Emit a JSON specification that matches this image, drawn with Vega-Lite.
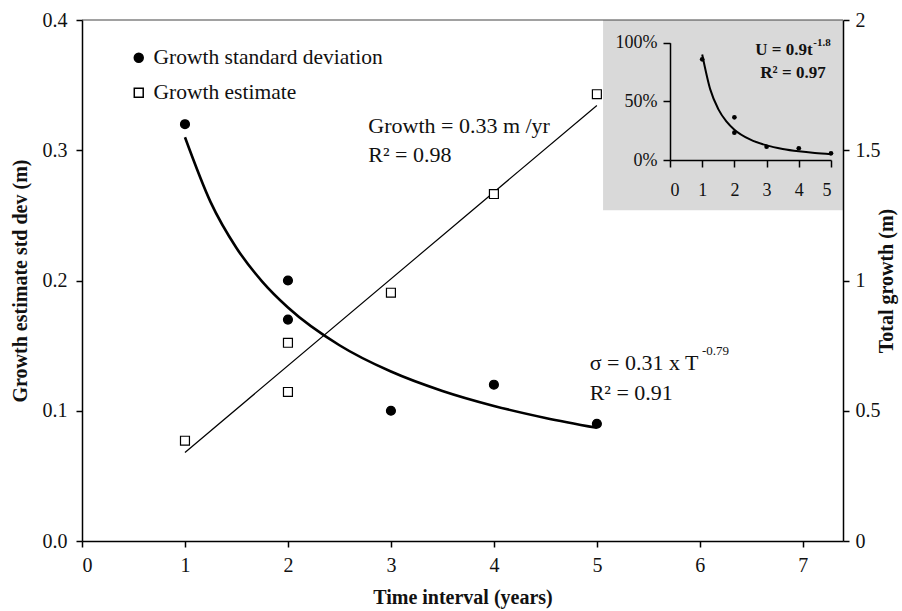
{
  "$schema": "https://vega.github.io/schema/vega-lite/v6.json",
  "width": 761,
  "height": 521,
  "autosize": {"type": "none"},
  "padding": {"left": 82, "top": 20, "right": 59, "bottom": 70},
  "background": "white",
  "config": {
    "view": {"stroke": null},
    "font": "Liberation Serif",
    "axis": {
      "grid": false,
      "domainColor": "#000",
      "domainWidth": 1.5,
      "tickColor": "#000",
      "tickWidth": 1.5,
      "tickSize": 6,
      "labelFont": "Liberation Serif",
      "labelFontSize": 20,
      "labelColor": "#111",
      "titleFont": "Liberation Serif",
      "titleFontSize": 20,
      "titleFontWeight": "bold",
      "titleColor": "#111"
    },
    "text": {"font": "Liberation Serif", "color": "#111"}
  },
  "datasets": {
    "sd": [
      {"t": 1, "v": 0.32, "series": "Growth standard deviation"},
      {"t": 2, "v": 0.20, "series": "Growth standard deviation"},
      {"t": 2, "v": 0.17, "series": "Growth standard deviation"},
      {"t": 3, "v": 0.10, "series": "Growth standard deviation"},
      {"t": 4, "v": 0.12, "series": "Growth standard deviation"},
      {"t": 5, "v": 0.09, "series": "Growth standard deviation"}
    ],
    "sdFit": [
      {"t": 1, "v": 0.310}, {"t": 1.25, "v": 0.260}, {"t": 1.5, "v": 0.225},
      {"t": 1.75, "v": 0.1992}, {"t": 2, "v": 0.1793}, {"t": 2.5, "v": 0.1503},
      {"t": 3, "v": 0.1301}, {"t": 3.5, "v": 0.1152}, {"t": 4, "v": 0.1037},
      {"t": 4.5, "v": 0.0945}, {"t": 5, "v": 0.0869}
    ],
    "growth": [
      {"t": 1, "g": 0.385, "series": "Growth estimate"},
      {"t": 2, "g": 0.572, "series": "Growth estimate"},
      {"t": 2, "g": 0.761, "series": "Growth estimate"},
      {"t": 3, "g": 0.953, "series": "Growth estimate"},
      {"t": 4, "g": 1.332, "series": "Growth estimate"},
      {"t": 5, "g": 1.715, "series": "Growth estimate"}
    ],
    "growthFit": [
      {"t": 1, "g": 0.34},
      {"t": 5, "g": 1.672}
    ],
    "unc": [
      {"t": 1, "u": 0.858}, {"t": 2, "u": 0.364}, {"t": 2, "u": 0.233},
      {"t": 3, "u": 0.113}, {"t": 4, "u": 0.100}, {"t": 5, "u": 0.057}
    ],
    "uncFit": [
      {"t": 1, "u": 0.9}, {"t": 1.25, "u": 0.602}, {"t": 1.5, "u": 0.434},
      {"t": 1.75, "u": 0.329}, {"t": 2, "u": 0.2585}, {"t": 2.5, "u": 0.173},
      {"t": 3, "u": 0.1246}, {"t": 3.5, "u": 0.0944}, {"t": 4, "u": 0.0743},
      {"t": 4.5, "u": 0.060}, {"t": 5, "u": 0.0497}
    ]
  },
  "layer": [
    {
      "layer": [
        {
          "layer": [
            {
              "data": {"values": [{}]},
              "mark": {"type": "rect", "color": "#d9d9d9"},
              "encoding": {
                "x": {"datum": 5.06, "type": "quantitative", "scale": {"domain": [0, 7.39], "nice": false, "zero": false},
                      "axis": {"values": [0, 1, 2, 3, 4, 5, 6, 7], "format": "d", "title": "Time interval (years)", "labelPadding": 8, "titlePadding": 12, "zindex": 1}},
                "x2": {"datum": 7.39},
                "y": {"datum": 0.254, "type": "quantitative", "scale": {"domain": [0, 0.4], "nice": false, "zero": false},
                      "axis": {"orient": "left", "values": [0, 0.1, 0.2, 0.3, 0.4], "format": ".1f", "title": "Growth estimate std dev (m)", "labelPadding": 9, "titlePadding": 12, "zindex": 1}},
                "y2": {"datum": 0.4}
              }
            },
            {
              "data": {"values": [{}]},
              "mark": {"type": "rule", "color": "#444", "strokeWidth": 1.2},
              "encoding": {"y": {"datum": 0.4}}
            },
            {
              "data": {"name": "sdFit"},
              "mark": {"type": "line", "color": "#000", "strokeWidth": 2.6, "interpolate": "monotone"},
              "encoding": {
                "x": {"field": "t", "type": "quantitative"},
                "y": {"field": "v", "type": "quantitative"}
              }
            },
            {
              "data": {"name": "sd"},
              "mark": {"type": "point", "size": 80, "stroke": "#000", "strokeWidth": 1.2, "opacity": 1},
              "encoding": {
                "x": {"field": "t", "type": "quantitative"},
                "y": {"field": "v", "type": "quantitative"},
                "shape": {"field": "series", "type": "nominal",
                          "scale": {"domain": ["Growth standard deviation", "Growth estimate"], "range": ["circle", "square"]},
                          "legend": {"orient": "none", "legendX": 46, "legendY": 27, "title": null, "padding": 0,
                                     "labelFontSize": 21.5, "labelFont": "Liberation Serif", "labelColor": "#111", "labelOffset": 4,
                                     "labelLimit": 400, "rowPadding": 12, "symbolSize": 80,
                                     "encode": {"symbols": {"update": {"stroke": {"value": "#000"}, "strokeWidth": {"value": 1.2}}}}}},
                "fill": {"field": "series", "type": "nominal",
                         "scale": {"domain": ["Growth standard deviation", "Growth estimate"], "range": ["#000", "#fff"]},
                         "legend": {"orient": "none", "legendX": 46, "legendY": 27, "title": null, "padding": 0,
                                    "labelFontSize": 21.5, "labelFont": "Liberation Serif", "labelColor": "#111", "labelOffset": 4,
                                    "labelLimit": 400, "rowPadding": 12, "symbolSize": 80,
                                    "encode": {"symbols": {"update": {"stroke": {"value": "#000"}, "strokeWidth": {"value": 1.2}}}}}}
              }
            },
            {
              "data": {"values": [{}]},
              "mark": {"type": "text", "text": "Growth = 0.33 m /yr", "fontSize": 22, "align": "left", "baseline": "middle"},
              "encoding": {"x": {"datum": 2.78}, "y": {"datum": 0.319}}
            },
            {
              "data": {"values": [{}]},
              "mark": {"type": "text", "text": "R² = 0.98", "fontSize": 22, "align": "left", "baseline": "middle"},
              "encoding": {"x": {"datum": 2.78}, "y": {"datum": 0.296}}
            },
            {
              "data": {"values": [{}]},
              "mark": {"type": "text", "text": "σ = 0.31 x T", "fontSize": 22, "align": "left", "baseline": "middle"},
              "encoding": {"x": {"datum": 4.93}, "y": {"datum": 0.137}}
            },
            {
              "data": {"values": [{}]},
              "mark": {"type": "text", "text": "-0.79", "fontSize": 13, "align": "left", "baseline": "middle"},
              "encoding": {"x": {"datum": 6.02}, "y": {"datum": 0.146}}
            },
            {
              "data": {"values": [{}]},
              "mark": {"type": "text", "text": "R² = 0.91", "fontSize": 22, "align": "left", "baseline": "middle"},
              "encoding": {"x": {"datum": 4.93}, "y": {"datum": 0.114}}
            }
          ]
        },
        {
          "layer": [
            {
              "data": {"name": "growthFit"},
              "mark": {"type": "line", "color": "#000", "strokeWidth": 1.2},
              "encoding": {
                "x": {"field": "t", "type": "quantitative"},
                "y": {"field": "g", "type": "quantitative", "scale": {"domain": [0, 2], "nice": false, "zero": false},
                      "axis": {"orient": "right", "values": [0, 0.5, 1, 1.5, 2], "format": "~g", "title": "Total growth (m)",
                               "titleAngle": 270, "labelPadding": 6, "titlePadding": 16, "zindex": 1}}
              }
            },
            {
              "data": {"name": "growth"},
              "mark": {"type": "point", "size": 80, "stroke": "#000", "strokeWidth": 1.2, "opacity": 1},
              "encoding": {
                "x": {"field": "t", "type": "quantitative"},
                "y": {"field": "g", "type": "quantitative"},
                "shape": {"field": "series", "type": "nominal"},
                "fill": {"field": "series", "type": "nominal"}
              }
            }
          ]
        }
      ],
      "resolve": {"scale": {"y": "independent"}}
    },
    {
      "layer": [
        {
          "data": {"name": "uncFit"},
          "mark": {"type": "line", "color": "#000", "strokeWidth": 2, "interpolate": "monotone"},
          "encoding": {
            "x": {"field": "t", "type": "quantitative",
                  "scale": {"domain": [0, 5], "range": [588, 749], "nice": false, "zero": false},
                  "axis": {"orient": "bottom", "offset": -381, "values": [0, 1, 2, 3, 4, 5], "format": "d", "title": null,
                           "labelFontSize": 18, "tickSize": 7, "labelPadding": 14, "zindex": 2}},
            "y": {"field": "u", "type": "quantitative",
                  "scale": {"domain": [0, 1], "range": [140, 22.7], "nice": false, "zero": false},
                  "axis": {"orient": "left", "offset": -588, "values": [0, 0.5, 1], "format": ".0%", "title": null,
                           "labelFontSize": 18, "tickSize": 7, "labelPadding": 6, "zindex": 2}}
          }
        },
        {
          "data": {"name": "unc"},
          "mark": {"type": "point", "filled": true, "size": 22, "color": "#000", "opacity": 1},
          "encoding": {
            "x": {"field": "t", "type": "quantitative"},
            "y": {"field": "u", "type": "quantitative"}
          }
        },
        {
          "data": {"values": [{}]},
          "mark": {"type": "text", "text": "U = 0.9t", "fontSize": 17, "fontWeight": "bold", "align": "right", "baseline": "middle"},
          "encoding": {"x": {"datum": 4.43}, "y": {"datum": 0.938}}
        },
        {
          "data": {"values": [{}]},
          "mark": {"type": "text", "text": "-1.8", "fontSize": 11, "fontWeight": "bold", "align": "left", "baseline": "middle"},
          "encoding": {"x": {"datum": 4.45}, "y": {"datum": 0.997}}
        },
        {
          "data": {"values": [{}]},
          "mark": {"type": "text", "text": "R² = 0.97", "fontSize": 17, "fontWeight": "bold", "align": "center", "baseline": "middle"},
          "encoding": {"x": {"datum": 3.82}, "y": {"datum": 0.742}}
        }
      ]
    }
  ],
  "resolve": {"scale": {"x": "independent", "y": "independent"}}
}
